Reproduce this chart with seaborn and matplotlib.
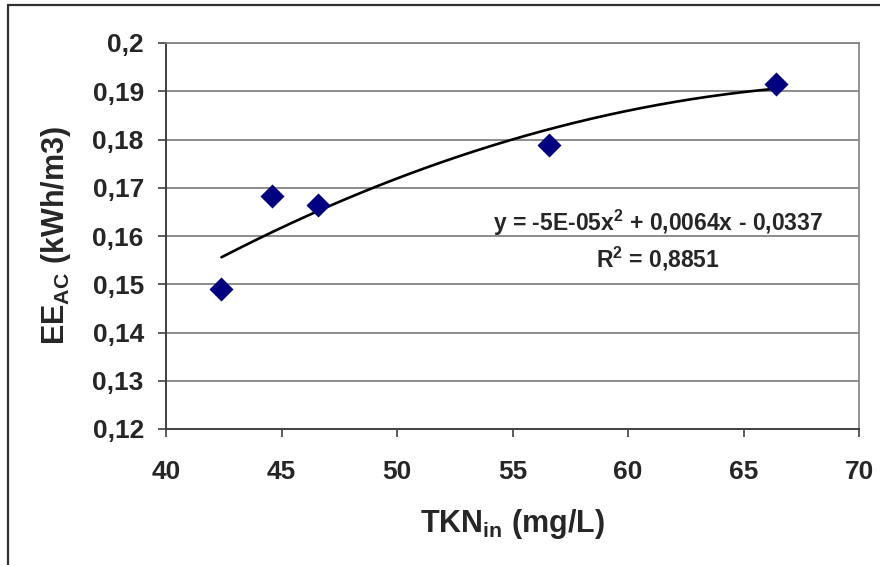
import numpy as np
import pandas as pd
import matplotlib
matplotlib.use("Agg")
import matplotlib.pyplot as plt
from matplotlib.lines import Line2D
import seaborn as sns

# Influent TKN (mg/L) and specific aeration energy (kWh/m3)
tkn_in = [42.4, 44.6, 46.6, 56.6, 66.4]
ee_ac = [0.1491, 0.1683, 0.1665, 0.1788, 0.1916]

x_ticks = [40, 45, 50, 55, 60, 65, 70]
y_ticks = [0.12, 0.13, 0.14, 0.15, 0.16, 0.17, 0.18, 0.19, 0.20]
y_tick_labels = ["0,12", "0,13", "0,14", "0,15", "0,16", "0,17", "0,18", "0,19", "0,2"]

equation_text = "y = -5E-05x$^{2}$ + 0,0064x - 0,0337"
r2_text = "R$^{2}$ = 0,8851"

sns.set_theme(style="white")
plt.rcParams["font.family"] = ["Liberation Sans", "DejaVu Sans"]
plt.rcParams["font.weight"] = "bold"
plt.rcParams["mathtext.fontset"] = "custom"
plt.rcParams["mathtext.rm"] = "Liberation Sans:bold"
plt.rcParams["mathtext.bf"] = "Liberation Sans:bold"
plt.rcParams["mathtext.it"] = "Liberation Sans:bold"
plt.rcParams["mathtext.default"] = "bf"

df = pd.DataFrame({"TKN": tkn_in, "EE": ee_ac})

# second-order polynomial trendline through the measurements
coef = np.polyfit(df["TKN"], df["EE"], 2)
xs = np.linspace(min(tkn_in), max(tkn_in), 200)
trend = pd.DataFrame({"TKN": xs, "EE": np.polyval(coef, xs)})

fig = plt.figure(figsize=(8.8, 5.65), dpi=100)
ax = fig.add_axes([166 / 880, 1 - 429 / 565, (859 - 166) / 880, (429 - 43) / 565])

# outer chart frame
fig.add_artist(Line2D([8 / 880, 8 / 880], [-0.05, 1 - 5 / 565], transform=fig.transFigure,
                      color="#303030", lw=1.6))
fig.add_artist(Line2D([8 / 880, 1.05], [1 - 5 / 565, 1 - 5 / 565], transform=fig.transFigure,
                      color="#303030", lw=1.6))

ax.set_xlim(40, 70)
ax.set_ylim(0.12, 0.20)
ax.set_xticks(x_ticks)
ax.set_xticklabels([str(t) for t in x_ticks])
ax.set_yticks(y_ticks)
ax.set_yticklabels(y_tick_labels)

for yv in y_ticks[1:]:
    ax.axhline(yv, color="#6e6e6e", lw=1.1, zorder=0)

sns.lineplot(data=trend, x="TKN", y="EE", ax=ax, color="black", lw=1.9, zorder=2)
sns.scatterplot(data=df, x="TKN", y="EE", ax=ax, marker="D", s=150,
                color="#000080", edgecolor="#000080", linewidth=0, zorder=3)

for side in ["left", "bottom"]:
    ax.spines[side].set_color("#404040")
    ax.spines[side].set_linewidth(1.4)
for side in ["top", "right"]:
    ax.spines[side].set_color("#808080")
    ax.spines[side].set_linewidth(1.2)

ax.tick_params(axis="both", direction="out", length=6, width=1.2, color="#404040",
               labelsize=19, left=True, bottom=True)
ax.tick_params(axis="x", pad=16)
ax.tick_params(axis="y", pad=10)
for lbl in ax.get_xticklabels() + ax.get_yticklabels():
    lbl.set_fontweight("bold")

ax.set_xlabel("TKN$_{in}$ (mg/L)", fontsize=22, fontweight="bold")
ax.set_ylabel("EE$_{AC}$ (kWh/m3)", fontsize=22, fontweight="bold")
ax.xaxis.set_label_coords(0.5, -0.246)
ax.xaxis.label.set_va("center")
ax.yaxis.set_label_coords(-0.159, 0.5)
ax.yaxis.label.set_va("center")

ax.text(61.3, 0.1627, equation_text, ha="center", va="center", fontsize=16.5, fontweight="bold")
ax.text(61.3, 0.1552, r2_text, ha="center", va="center", fontsize=16.5, fontweight="bold")

fig.savefig("out.png", dpi=100, facecolor="white")
